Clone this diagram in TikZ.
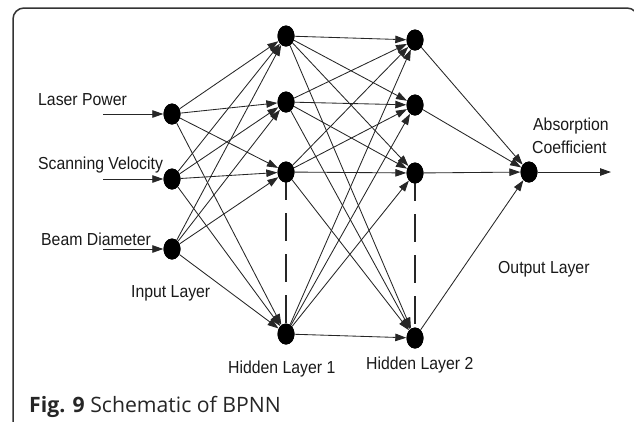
\documentclass[tikz,border=0pt]{standalone}
\usepackage{fontspec}
\setmainfont{Liberation Sans}
\newfontfamily\capfont{Open Sans}
\usetikzlibrary{arrows.meta,shapes.geometric}
\newcommand\vstr[1]{\scalebox{1}[1.1]{#1}}
\begin{document}
\begin{tikzpicture}[x=1pt,y=-1pt,
  neuron/.style={ellipse,fill=black,draw=none,minimum width=17pt,minimum height=21pt,inner sep=0pt},
  conn/.style={draw=black!85,line width=0.85pt,-{Triangle[length=11pt,width=7.5pt]}},
  lbl/.style={font=\fontsize{15.8}{18}\selectfont,anchor=base west,inner sep=0pt,text=black!90},
  dashline/.style={draw=black!85,line width=1.1pt,dash pattern=on 28pt off 13pt}]
\useasboundingbox (0,0) rectangle (634,421);
\begin{scope}
\clip (0,0) rectangle (634,421);
\draw[line width=1.5pt,black!80,rounded corners=11pt] (13,430) -- (13,8) -- (638,8) -- (638,430);
\end{scope}
% nodes
\node[neuron] (i1) at (172,114) {};
\node[neuron] (i2) at (172,179) {};
\node[neuron] (i3) at (172,249) {};
\node[neuron] (h1) at (286,36) {};
\node[neuron] (h2) at (286,102) {};
\node[neuron] (h3) at (286,172) {};
\node[neuron] (h4) at (286,334) {};
\node[neuron] (g1) at (415,40) {};
\node[neuron] (g2) at (415,105) {};
\node[neuron] (g3) at (415,173) {};
\node[neuron] (g4) at (415,338) {};
\node[neuron] (o) at (529,172) {};
% free ends
\coordinate (s1) at (103,114);
\coordinate (s2) at (103,179);
\coordinate (s3) at (103,249);
\coordinate (e) at (611,172);
% connectors
\draw[conn] (s1) -- (i1);
\draw[conn] (s2) -- (i2);
\draw[conn] (s3) -- (i3);
\foreach \a in {i1,i2,i3}{\foreach \b in {h1,h2,h3,h4}{\draw[conn] (\a) -- (\b);}}
\foreach \a in {h1,h2,h3,h4}{\foreach \b in {g1,g2,g3,g4}{\draw[conn] (\a) -- (\b);}}
\foreach \a in {g1,g2,g3,g4}{\draw[conn] (\a) -- (o);}
\draw[conn] (o) -- (e);
\draw[dashline] (h3.center) -- (h4.center);
\draw[dashline] (g3.center) -- (g4.center);
\foreach \n in {i1,i2,i3,h1,h2,h3,h4,g1,g2,g3,g4,o}{\node[neuron] at (\n) {};}
% labels
\node[lbl] (t1) at (38,105) {\vstr{Laser Power}};
\node[lbl] (t2) at (38,169) {\vstr{Scanning Velocity}};
\node[lbl] (t3) at (41,245) {\vstr{Beam Diameter}};
\node[lbl] (t4) at (131,297) {\vstr{Input Layer}};
\node[lbl] (t5) at (228,373) {\vstr{Hidden Layer 1}};
\node[lbl] (t6) at (366,369) {\vstr{Hidden Layer 2}};
\node[lbl] (t7) at (498,273) {\vstr{Output Layer}};
\node[lbl] (t8) at (533,130) {\vstr{Absorption}};
\node[lbl] (t9) at (532,153) {\vstr{Coefficient}};
\node[anchor=base west,inner sep=0pt,font=\capfont\fontsize{21.2}{24}\selectfont,text=black!85] (cap) at (29,412) {\textbf{Fig. 9} Schematic of BPNN};
\end{tikzpicture}
\end{document}
